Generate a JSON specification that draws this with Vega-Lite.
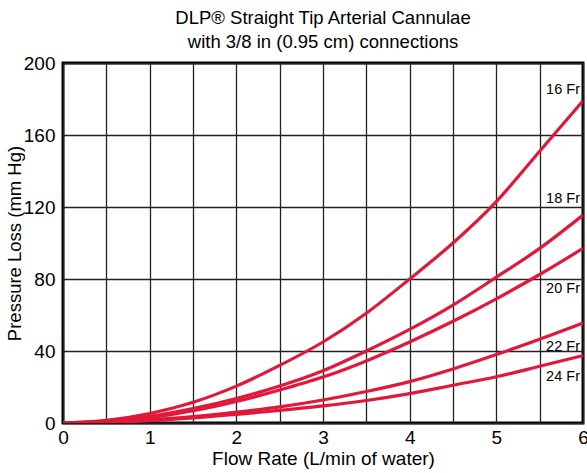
{
  "$schema": "https://vega.github.io/schema/vega-lite/v6.json",
  "width": 520,
  "height": 360,
  "autosize": "none",
  "padding": {"left": 63, "top": 63, "right": 4, "bottom": 50},
  "background": "white",
  "title": {
    "text": ["DLP® Straight Tip Arterial Cannulae", "with 3/8 in (0.95 cm) connections"],
    "font": "Liberation Sans",
    "fontSize": 18.5,
    "fontWeight": "normal",
    "lineHeight": 24,
    "offset": 3,
    "color": "black"
  },
  "config": {
    "view": {"stroke": "black", "strokeWidth": 3},
    "font": "Liberation Sans"
  },
  "datasets": {
    "curves": [
      {"size": "16 Fr", "flow": 0, "loss": 0},
      {"size": "16 Fr", "flow": 0.5, "loss": 1.5},
      {"size": "16 Fr", "flow": 1, "loss": 5.3},
      {"size": "16 Fr", "flow": 1.5, "loss": 11.5},
      {"size": "16 Fr", "flow": 2, "loss": 20.5},
      {"size": "16 Fr", "flow": 2.5, "loss": 32},
      {"size": "16 Fr", "flow": 3, "loss": 45},
      {"size": "16 Fr", "flow": 3.5, "loss": 61},
      {"size": "16 Fr", "flow": 4, "loss": 80},
      {"size": "16 Fr", "flow": 4.5, "loss": 100},
      {"size": "16 Fr", "flow": 5, "loss": 123},
      {"size": "16 Fr", "flow": 5.5, "loss": 151},
      {"size": "16 Fr", "flow": 6, "loss": 179},
      {"size": "18 Fr", "flow": 0, "loss": 0},
      {"size": "18 Fr", "flow": 0.5, "loss": 1},
      {"size": "18 Fr", "flow": 1, "loss": 3.7},
      {"size": "18 Fr", "flow": 1.5, "loss": 8},
      {"size": "18 Fr", "flow": 2, "loss": 13.6},
      {"size": "18 Fr", "flow": 2.5, "loss": 20.5},
      {"size": "18 Fr", "flow": 3, "loss": 29},
      {"size": "18 Fr", "flow": 3.5, "loss": 40},
      {"size": "18 Fr", "flow": 4, "loss": 52},
      {"size": "18 Fr", "flow": 4.5, "loss": 65.5},
      {"size": "18 Fr", "flow": 5, "loss": 81},
      {"size": "18 Fr", "flow": 5.5, "loss": 97},
      {"size": "18 Fr", "flow": 6, "loss": 115.5},
      {"size": "20 Fr", "flow": 0, "loss": 0},
      {"size": "20 Fr", "flow": 0.5, "loss": 0.8},
      {"size": "20 Fr", "flow": 1, "loss": 3},
      {"size": "20 Fr", "flow": 1.5, "loss": 6.8},
      {"size": "20 Fr", "flow": 2, "loss": 12},
      {"size": "20 Fr", "flow": 2.5, "loss": 18.3},
      {"size": "20 Fr", "flow": 3, "loss": 25.5},
      {"size": "20 Fr", "flow": 3.5, "loss": 34.5},
      {"size": "20 Fr", "flow": 4, "loss": 45},
      {"size": "20 Fr", "flow": 4.5, "loss": 56.5},
      {"size": "20 Fr", "flow": 5, "loss": 69},
      {"size": "20 Fr", "flow": 5.5, "loss": 82.5},
      {"size": "20 Fr", "flow": 6, "loss": 97},
      {"size": "22 Fr", "flow": 0, "loss": 0},
      {"size": "22 Fr", "flow": 0.5, "loss": 0.5},
      {"size": "22 Fr", "flow": 1, "loss": 1.8},
      {"size": "22 Fr", "flow": 1.5, "loss": 3.5},
      {"size": "22 Fr", "flow": 2, "loss": 6},
      {"size": "22 Fr", "flow": 2.5, "loss": 9},
      {"size": "22 Fr", "flow": 3, "loss": 12.8},
      {"size": "22 Fr", "flow": 3.5, "loss": 17.5},
      {"size": "22 Fr", "flow": 4, "loss": 23},
      {"size": "22 Fr", "flow": 4.5, "loss": 30},
      {"size": "22 Fr", "flow": 5, "loss": 38},
      {"size": "22 Fr", "flow": 5.5, "loss": 46.5},
      {"size": "22 Fr", "flow": 6, "loss": 55.5},
      {"size": "24 Fr", "flow": 0, "loss": 0},
      {"size": "24 Fr", "flow": 0.5, "loss": 0.4},
      {"size": "24 Fr", "flow": 1, "loss": 1.3},
      {"size": "24 Fr", "flow": 1.5, "loss": 2.8},
      {"size": "24 Fr", "flow": 2, "loss": 4.8},
      {"size": "24 Fr", "flow": 2.5, "loss": 7},
      {"size": "24 Fr", "flow": 3, "loss": 9.5},
      {"size": "24 Fr", "flow": 3.5, "loss": 12.5},
      {"size": "24 Fr", "flow": 4, "loss": 16.3},
      {"size": "24 Fr", "flow": 4.5, "loss": 21},
      {"size": "24 Fr", "flow": 5, "loss": 25.7},
      {"size": "24 Fr", "flow": 5.5, "loss": 31.5},
      {"size": "24 Fr", "flow": 6, "loss": 37.5}
    ],
    "labels": [
      {"size": "16 Fr", "x": 5.965, "y": 184.8},
      {"size": "18 Fr", "x": 5.965, "y": 124.7},
      {"size": "20 Fr", "x": 5.965, "y": 74.4},
      {"size": "22 Fr", "x": 5.965, "y": 42.5},
      {"size": "24 Fr", "x": 5.965, "y": 25.7}
    ]
  },
  "layer": [
    {
      "data": {"name": "curves"},
      "mark": {"type": "line", "color": "#e0183a", "strokeWidth": 3.2, "interpolate": "monotone", "clip": true},
      "encoding": {
        "x": {
          "field": "flow",
          "type": "quantitative",
          "scale": {"domain": [0, 6], "nice": false},
          "axis": {
            "values": [0, 0.5, 1, 1.5, 2, 2.5, 3, 3.5, 4, 4.5, 5, 5.5, 6],
            "format": "~g",
            "labelExpr": "datum.value % 1 === 0 ? datum.label : ''",
            "grid": true,
            "gridColor": "#222222",
            "gridOpacity": 1,
            "gridWidth": 1.3,
            "ticks": false,
            "domain": false,
            "labelFontSize": 19,
            "labelColor": "black",
            "labelPadding": 5,
            "labelFlush": false,
            "labelOverlap": false,
            "title": "Flow Rate (L/min of water)",
            "titleFontSize": 19,
            "titleFontWeight": "normal",
            "titleColor": "black",
            "titlePadding": 2
          }
        },
        "y": {
          "field": "loss",
          "type": "quantitative",
          "scale": {"domain": [0, 200], "nice": false},
          "axis": {
            "values": [0, 20, 40, 60, 80, 100, 120, 140, 160, 180, 200],
            "format": "d",
            "labelExpr": "datum.value % 40 === 0 ? datum.label : ''",
            "grid": true,
            "gridColor": "#222222",
            "gridOpacity": 1,
            "gridWidth": 1.3,
            "ticks": false,
            "domain": false,
            "labelFontSize": 19,
            "labelColor": "black",
            "labelPadding": 8,
            "labelFlush": false,
            "labelOverlap": false,
            "title": "Pressure Loss (mm Hg)",
            "titleFontSize": 18.5,
            "titleFontWeight": "normal",
            "titleColor": "black",
            "titlePadding": -1
          }
        },
        "detail": {"field": "size", "type": "nominal"}
      }
    },
    {
      "data": {"name": "labels"},
      "mark": {"type": "text", "align": "right", "baseline": "middle", "fontSize": 14.5, "color": "black"},
      "encoding": {
        "x": {"field": "x", "type": "quantitative"},
        "y": {"field": "y", "type": "quantitative"},
        "text": {"field": "size", "type": "nominal"}
      }
    }
  ]
}
